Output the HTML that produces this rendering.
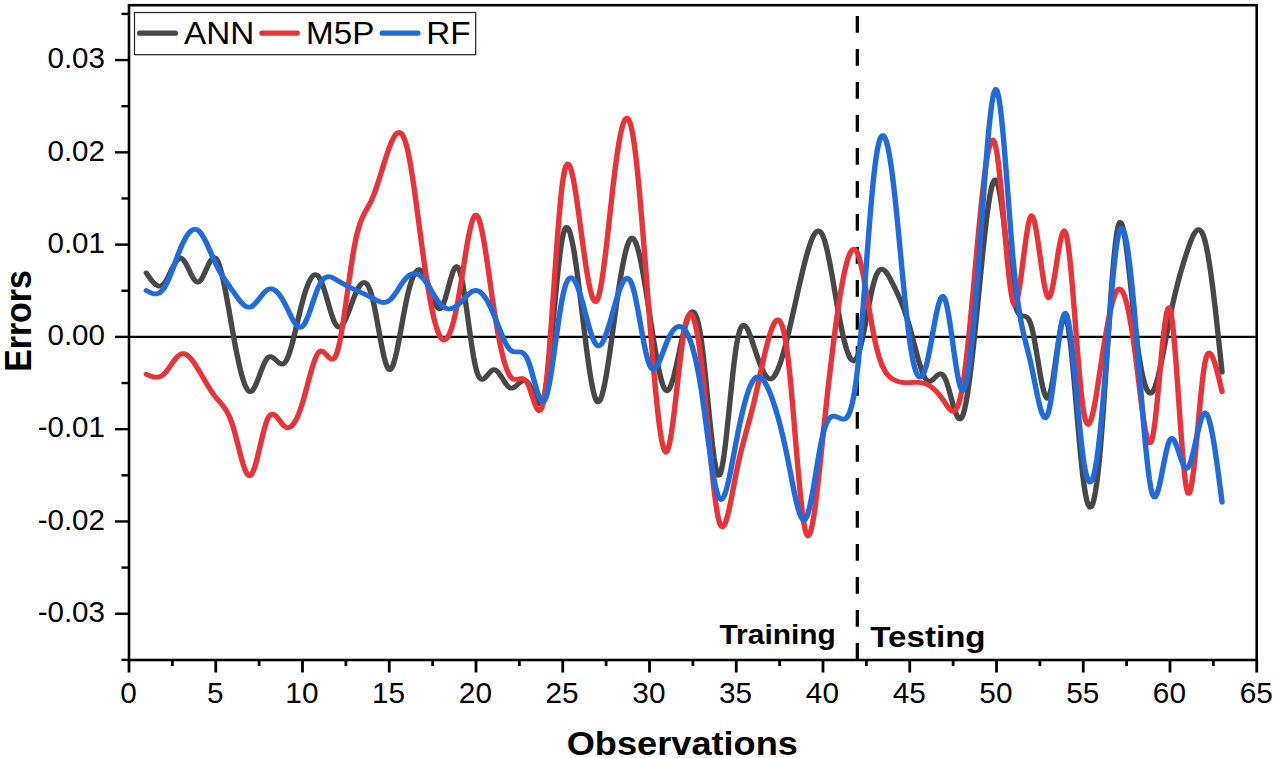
<!DOCTYPE html>
<html lang="en">
<head>
<meta charset="utf-8">
<title>Errors vs Observations</title>
<style>
html,body{margin:0;padding:0;background:#fff;}
body{width:1274px;height:758px;overflow:hidden;}
svg{display:block;}
text{font-family:"Liberation Sans",Arial,Helvetica,sans-serif;fill:#000;}
</style>
</head>
<body>
<svg width="1274" height="758" viewBox="0 0 1274 758">
<rect x="0" y="0" width="1274" height="758" fill="#ffffff"/>
<g stroke="#000" stroke-width="2.4" fill="none" stroke-linecap="butt">
<g stroke-width="2.8">
<line x1="129.00" y1="660.0" x2="129.00" y2="672.5"/>
<line x1="215.75" y1="660.0" x2="215.75" y2="672.5"/>
<line x1="302.50" y1="660.0" x2="302.50" y2="672.5"/>
<line x1="389.25" y1="660.0" x2="389.25" y2="672.5"/>
<line x1="476.00" y1="660.0" x2="476.00" y2="672.5"/>
<line x1="562.75" y1="660.0" x2="562.75" y2="672.5"/>
<line x1="649.50" y1="660.0" x2="649.50" y2="672.5"/>
<line x1="736.25" y1="660.0" x2="736.25" y2="672.5"/>
<line x1="823.00" y1="660.0" x2="823.00" y2="672.5"/>
<line x1="909.75" y1="660.0" x2="909.75" y2="672.5"/>
<line x1="996.50" y1="660.0" x2="996.50" y2="672.5"/>
<line x1="1083.25" y1="660.0" x2="1083.25" y2="672.5"/>
<line x1="1170.00" y1="660.0" x2="1170.00" y2="672.5"/>
<line x1="1256.75" y1="660.0" x2="1256.75" y2="672.5"/>
<line x1="172.38" y1="660.0" x2="172.38" y2="666.0"/>
<line x1="259.12" y1="660.0" x2="259.12" y2="666.0"/>
<line x1="345.88" y1="660.0" x2="345.88" y2="666.0"/>
<line x1="432.62" y1="660.0" x2="432.62" y2="666.0"/>
<line x1="519.38" y1="660.0" x2="519.38" y2="666.0"/>
<line x1="606.12" y1="660.0" x2="606.12" y2="666.0"/>
<line x1="692.88" y1="660.0" x2="692.88" y2="666.0"/>
<line x1="779.62" y1="660.0" x2="779.62" y2="666.0"/>
<line x1="866.38" y1="660.0" x2="866.38" y2="666.0"/>
<line x1="953.13" y1="660.0" x2="953.13" y2="666.0"/>
<line x1="1039.88" y1="660.0" x2="1039.88" y2="666.0"/>
<line x1="1126.62" y1="660.0" x2="1126.62" y2="666.0"/>
<line x1="1213.38" y1="660.0" x2="1213.38" y2="666.0"/>
</g>
<line x1="115.0" y1="613.74" x2="129.0" y2="613.74"/>
<line x1="115.0" y1="521.46" x2="129.0" y2="521.46"/>
<line x1="115.0" y1="429.18" x2="129.0" y2="429.18"/>
<line x1="115.0" y1="336.90" x2="129.0" y2="336.90"/>
<line x1="115.0" y1="244.62" x2="129.0" y2="244.62"/>
<line x1="115.0" y1="152.34" x2="129.0" y2="152.34"/>
<line x1="115.0" y1="60.06" x2="129.0" y2="60.06"/>
<line x1="121.5" y1="659.88" x2="129.0" y2="659.88"/>
<line x1="121.5" y1="567.60" x2="129.0" y2="567.60"/>
<line x1="121.5" y1="475.32" x2="129.0" y2="475.32"/>
<line x1="121.5" y1="383.04" x2="129.0" y2="383.04"/>
<line x1="121.5" y1="290.76" x2="129.0" y2="290.76"/>
<line x1="121.5" y1="198.48" x2="129.0" y2="198.48"/>
<line x1="121.5" y1="106.20" x2="129.0" y2="106.20"/>
<line x1="121.5" y1="13.92" x2="129.0" y2="13.92"/>
</g>
<line x1="129.0" y1="336.9" x2="1256.7" y2="336.9" stroke="#000" stroke-width="2.2"/>
<line x1="857.3" y1="16.1" x2="857.3" y2="660.0" stroke="#000" stroke-width="3.2" stroke-dasharray="16.6 16.4"/>
<g fill="none" stroke-width="4.8" stroke-linecap="round" stroke-linejoin="round" transform="scale(1.13 1)">
<path stroke="#474747" d="M129.51 272.9L130.77 275.1L132.03 277.1L133.29 279.1L134.55 280.9L135.81 282.6L137.07 284.0L138.33 285.0L139.59 285.8L140.85 286.1L142.11 286.0L143.36 285.4L144.62 284.3L145.88 282.6L147.14 280.4L148.40 277.8L149.66 275.0L150.92 272.0L152.18 269.0L153.44 266.2L154.70 263.6L155.96 261.4L157.22 259.6L158.47 258.5L159.73 258.1L160.99 258.6L162.25 259.9L163.51 261.8L164.77 264.2L166.03 267.0L167.29 269.9L168.55 272.9L169.81 275.7L171.07 278.2L172.33 280.2L173.58 281.6L174.84 282.2L176.10 281.9L177.36 280.6L178.62 278.6L179.88 275.9L181.14 272.9L182.40 269.7L183.66 266.6L184.92 263.6L186.18 261.0L187.44 259.0L188.70 257.8L189.95 257.6L191.21 258.5L192.47 260.7L193.73 264.1L194.99 268.5L196.25 273.9L197.51 280.0L198.77 286.8L200.03 294.1L201.29 301.8L202.55 309.7L203.81 317.9L205.06 326.0L206.32 334.0L207.58 341.8L208.84 349.3L210.10 356.4L211.36 363.1L212.62 369.2L213.88 374.8L215.14 379.7L216.40 383.8L217.66 387.2L218.92 389.7L220.17 391.2L221.43 391.7L222.69 391.2L223.95 389.7L225.21 387.4L226.47 384.5L227.73 381.1L228.99 377.4L230.25 373.6L231.51 369.8L232.77 366.2L234.03 362.9L235.29 360.2L236.54 358.2L237.80 357.0L239.06 356.6L240.32 356.9L241.58 357.7L242.84 358.8L244.10 360.1L245.36 361.4L246.62 362.6L247.88 363.6L249.14 364.1L250.40 364.0L251.65 363.1L252.91 361.4L254.17 358.7L255.43 355.2L256.69 351.0L257.95 346.2L259.21 340.9L260.47 335.2L261.73 329.3L262.99 323.3L264.25 317.2L265.51 311.3L266.76 305.5L268.02 300.1L269.28 295.1L270.54 290.5L271.80 286.5L273.06 282.9L274.32 280.0L275.58 277.6L276.84 275.9L278.10 274.9L279.36 274.7L280.62 275.2L281.88 276.5L283.13 278.7L284.39 281.7L285.65 285.4L286.91 289.6L288.17 294.3L289.43 299.2L290.69 304.1L291.95 309.0L293.21 313.6L294.47 317.8L295.73 321.4L296.99 324.2L298.24 326.2L299.50 327.1L300.76 327.1L302.02 326.2L303.28 324.5L304.54 322.1L305.80 319.3L307.06 316.0L308.32 312.4L309.58 308.6L310.84 304.7L312.10 300.9L313.35 297.2L314.61 293.7L315.87 290.6L317.13 287.9L318.39 285.6L319.65 284.0L320.91 282.9L322.17 282.5L323.43 282.9L324.69 284.1L325.95 286.2L327.21 289.3L328.47 293.5L329.72 298.7L330.98 305.0L332.24 312.0L333.50 319.6L334.76 327.4L336.02 335.3L337.28 342.9L338.54 350.0L339.80 356.5L341.06 361.9L342.32 366.1L343.58 368.8L344.83 369.7L346.09 368.9L347.35 366.4L348.61 362.5L349.87 357.3L351.13 351.2L352.39 344.3L353.65 336.9L354.91 329.1L356.17 321.2L357.43 313.4L358.69 305.9L359.94 299.0L361.20 292.7L362.46 287.2L363.72 282.4L364.98 278.4L366.24 275.1L367.50 272.6L368.76 270.8L370.02 269.8L371.28 269.6L372.54 270.2L373.80 271.5L375.06 273.6L376.31 276.5L377.57 280.1L378.83 284.0L380.09 288.2L381.35 292.5L382.61 296.7L383.87 300.5L385.13 303.8L386.39 306.5L387.65 308.2L388.91 308.9L390.17 308.3L391.42 306.4L392.68 303.1L393.94 298.9L395.20 294.0L396.46 288.7L397.72 283.4L398.98 278.3L400.24 273.8L401.50 270.1L402.76 267.6L404.02 266.5L405.28 267.3L406.53 270.0L407.79 274.9L409.05 281.4L410.31 289.4L411.57 298.5L412.83 308.3L414.09 318.5L415.35 328.8L416.61 338.9L417.87 348.4L419.13 357.1L420.39 364.5L421.65 370.5L422.90 374.7L424.16 377.5L425.42 379.0L426.68 379.4L427.94 379.0L429.20 377.9L430.46 376.4L431.72 374.7L432.98 373.0L434.24 371.4L435.50 370.2L436.76 369.6L438.01 369.8L439.27 370.6L440.53 371.9L441.79 373.7L443.05 375.7L444.31 377.9L445.57 380.2L446.83 382.4L448.09 384.4L449.35 386.1L450.61 387.4L451.87 388.1L453.12 388.2L454.38 387.7L455.64 386.9L456.90 385.7L458.16 384.4L459.42 383.1L460.68 381.9L461.94 380.9L463.20 380.3L464.46 380.2L465.72 380.8L466.98 382.1L468.24 384.3L469.49 387.2L470.75 390.5L472.01 394.0L473.27 397.4L474.53 400.3L475.79 402.5L477.05 403.8L478.31 403.8L479.57 402.2L480.83 398.8L482.09 393.2L483.35 385.3L484.60 375.1L485.86 363.0L487.12 349.5L488.38 334.9L489.64 319.8L490.90 304.5L492.16 289.5L493.42 275.2L494.68 262.1L495.94 250.6L497.20 241.0L498.46 233.9L499.71 229.4L500.97 227.4L502.23 227.6L503.49 229.8L504.75 233.9L506.01 239.7L507.27 246.9L508.53 255.4L509.79 264.9L511.05 275.3L512.31 286.4L513.57 297.9L514.83 309.7L516.08 321.6L517.34 333.3L518.60 344.8L519.86 355.7L521.12 365.9L522.38 375.3L523.64 383.5L524.90 390.5L526.16 396.0L527.42 399.9L528.68 401.8L529.94 401.8L531.19 399.9L532.45 396.3L533.71 391.2L534.97 384.8L536.23 377.2L537.49 368.7L538.75 359.5L540.01 349.6L541.27 339.4L542.53 329.0L543.79 318.6L545.05 308.3L546.30 298.3L547.56 288.8L548.82 279.7L550.08 271.3L551.34 263.6L552.60 256.7L553.86 250.7L555.12 245.7L556.38 241.9L557.64 239.3L558.90 238.1L560.16 238.3L561.42 239.9L562.67 242.8L563.93 246.8L565.19 252.0L566.45 258.1L567.71 265.0L568.97 272.6L570.23 280.8L571.49 289.5L572.75 298.5L574.01 307.7L575.27 317.1L576.53 326.4L577.78 335.6L579.04 344.6L580.30 353.1L581.56 361.1L582.82 368.4L584.08 374.9L585.34 380.5L586.60 385.0L587.86 388.3L589.12 390.3L590.38 390.9L591.64 389.9L592.89 387.6L594.15 384.2L595.41 379.7L596.67 374.5L597.93 368.6L599.19 362.2L600.45 355.6L601.71 348.9L602.97 342.3L604.23 336.0L605.49 330.1L606.75 324.8L608.01 320.2L609.26 316.5L610.52 313.8L611.78 312.2L613.04 311.7L614.30 312.5L615.56 314.8L616.82 318.5L618.08 323.9L619.34 331.1L620.60 340.1L621.86 351.0L623.12 363.6L624.37 377.3L625.63 391.7L626.89 406.3L628.15 420.7L629.41 434.3L630.67 446.7L631.93 457.5L633.19 466.2L634.45 472.3L635.71 475.3L636.97 474.9L638.23 471.0L639.48 464.3L640.74 455.1L642.00 443.9L643.26 431.3L644.52 417.7L645.78 403.7L647.04 389.6L648.30 376.0L649.56 363.4L650.82 352.2L652.08 343.0L653.34 335.9L654.60 330.7L655.85 327.4L657.11 325.6L658.37 325.2L659.63 326.1L660.89 328.0L662.15 330.8L663.41 334.2L664.67 338.1L665.93 342.3L667.19 346.6L668.45 350.9L669.71 355.1L670.96 359.2L672.22 363.0L673.48 366.6L674.74 369.8L676.00 372.6L677.26 375.0L678.52 376.9L679.78 378.2L681.04 378.9L682.30 378.9L683.56 378.2L684.82 376.8L686.07 374.7L687.33 372.1L688.59 368.8L689.85 365.1L691.11 361.0L692.37 356.4L693.63 351.4L694.89 346.1L696.15 340.5L697.41 334.7L698.67 328.7L699.93 322.6L701.19 316.3L702.44 310.0L703.70 303.6L704.96 297.2L706.22 290.9L707.48 284.6L708.74 278.4L710.00 272.4L711.26 266.6L712.52 261.0L713.78 255.7L715.04 250.7L716.30 246.1L717.55 241.9L718.81 238.3L720.07 235.4L721.33 233.1L722.59 231.5L723.85 230.8L725.11 231.0L726.37 232.2L727.63 234.4L728.89 237.8L730.15 242.2L731.41 247.6L732.66 253.9L733.92 260.8L735.18 268.3L736.44 276.2L737.70 284.4L738.96 292.7L740.22 301.0L741.48 309.2L742.74 317.1L744.00 324.6L745.26 331.5L746.52 337.9L747.78 343.7L749.03 348.7L750.29 352.9L751.55 356.3L752.81 358.8L754.07 360.3L755.33 360.8L756.59 360.3L757.85 358.5L759.11 355.6L760.37 351.4L761.63 346.2L762.89 340.1L764.14 333.4L765.40 326.1L766.66 318.6L767.92 311.1L769.18 303.6L770.44 296.5L771.70 289.9L772.96 284.0L774.22 279.1L775.48 275.2L776.74 272.3L778.00 270.4L779.25 269.4L780.51 269.2L781.77 269.7L783.03 270.8L784.29 272.4L785.55 274.4L786.81 276.8L788.07 279.4L789.33 282.2L790.59 285.0L791.85 287.9L793.11 290.9L794.37 293.9L795.62 297.1L796.88 300.4L798.14 303.9L799.40 307.6L800.66 311.5L801.92 315.7L803.18 320.1L804.44 324.8L805.70 329.8L806.96 335.0L808.22 340.5L809.48 346.0L810.73 351.4L811.99 356.7L813.25 361.8L814.51 366.5L815.77 370.7L817.03 374.4L818.29 377.4L819.55 379.7L820.81 381.0L822.07 381.5L823.33 381.3L824.59 380.5L825.84 379.3L827.10 377.9L828.36 376.5L829.62 375.2L830.88 374.3L832.14 373.9L833.40 374.1L834.66 375.2L835.92 377.3L837.18 380.5L838.44 384.6L839.70 389.4L840.96 394.5L842.21 399.7L843.47 404.8L844.73 409.5L845.99 413.5L847.25 416.6L848.51 418.6L849.77 419.0L851.03 417.8L852.29 414.6L853.55 409.6L854.81 402.9L856.07 394.7L857.32 385.1L858.58 374.4L859.84 362.6L861.10 349.9L862.36 336.5L863.62 322.6L864.88 308.3L866.14 293.8L867.40 279.2L868.66 264.8L869.92 250.8L871.18 237.3L872.43 224.8L873.69 213.3L874.95 203.1L876.21 194.4L877.47 187.6L878.73 182.7L879.99 180.1L881.25 180.0L882.51 182.5L883.77 187.6L885.03 195.0L886.29 204.1L887.55 214.7L888.80 226.3L890.06 238.4L891.32 250.8L892.58 263.0L893.84 274.6L895.10 285.2L896.36 294.4L897.62 301.8L898.88 307.3L900.14 311.1L901.40 313.6L902.66 315.0L903.91 315.7L905.17 316.0L906.43 316.2L907.69 316.5L908.95 317.4L910.21 319.1L911.47 321.9L912.73 326.1L913.99 331.9L915.25 339.0L916.51 347.0L917.77 355.5L919.02 364.1L920.28 372.6L921.54 380.4L922.80 387.3L924.06 392.8L925.32 396.5L926.58 398.2L927.84 397.4L929.10 393.9L930.36 387.9L931.62 380.2L932.88 371.2L934.14 361.4L935.39 351.4L936.65 341.8L937.91 333.0L939.17 325.6L940.43 320.2L941.69 317.3L942.95 317.5L944.21 321.1L945.47 328.1L946.73 338.0L947.99 350.3L949.25 364.4L950.50 379.8L951.76 396.2L953.02 413.0L954.28 429.6L955.54 445.6L956.80 460.6L958.06 473.9L959.32 485.2L960.58 494.2L961.84 500.8L963.10 505.1L964.36 507.2L965.61 506.9L966.87 504.3L968.13 499.3L969.39 492.1L970.65 482.5L971.91 470.7L973.17 456.5L974.43 439.9L975.69 421.3L976.95 401.1L978.21 379.8L979.47 357.9L980.73 336.0L981.98 314.6L983.24 294.2L984.50 275.4L985.76 258.6L987.02 244.4L988.28 233.4L989.54 226.0L990.80 222.5L992.06 222.6L993.32 225.9L994.58 231.9L995.84 240.3L997.09 250.5L998.35 262.2L999.61 275.0L1000.87 288.3L1002.13 301.9L1003.39 315.2L1004.65 327.8L1005.91 339.5L1007.17 350.0L1008.43 359.4L1009.69 367.6L1010.95 374.8L1012.20 380.7L1013.46 385.6L1014.72 389.2L1015.98 391.7L1017.24 393.1L1018.50 393.2L1019.76 392.1L1021.02 389.9L1022.28 386.5L1023.54 382.2L1024.80 377.0L1026.06 371.1L1027.32 364.5L1028.57 357.6L1029.83 350.2L1031.09 342.7L1032.35 335.1L1033.61 327.6L1034.87 320.2L1036.13 313.1L1037.39 306.3L1038.65 299.9L1039.91 293.8L1041.17 288.0L1042.43 282.4L1043.68 277.1L1044.94 272.0L1046.20 267.1L1047.46 262.4L1048.72 257.8L1049.98 253.4L1051.24 249.2L1052.50 245.1L1053.76 241.2L1055.02 237.8L1056.28 234.8L1057.54 232.3L1058.79 230.6L1060.05 229.7L1061.31 229.7L1062.57 230.7L1063.83 232.8L1065.09 236.2L1066.35 240.8L1067.61 246.9L1068.87 254.2L1070.13 262.7L1071.39 272.3L1072.65 282.8L1073.91 294.1L1075.16 306.0L1076.42 318.6L1077.68 331.7L1078.94 345.1L1080.20 358.7L1081.46 372.4"/>
<path stroke="#ea3336" d="M129.51 374.3L130.77 374.9L132.03 375.5L133.29 376.1L134.55 376.5L135.81 376.9L137.07 377.2L138.33 377.2L139.59 377.2L140.85 376.9L142.11 376.3L143.36 375.6L144.62 374.5L145.88 373.2L147.14 371.5L148.40 369.7L149.66 367.7L150.92 365.7L152.18 363.6L153.44 361.6L154.70 359.7L155.96 357.9L157.22 356.4L158.47 355.1L159.73 354.2L160.99 353.7L162.25 353.6L163.51 353.9L164.77 354.5L166.03 355.5L167.29 356.7L168.55 358.2L169.81 359.9L171.07 361.8L172.33 363.8L173.58 366.0L174.84 368.3L176.10 370.7L177.36 373.0L178.62 375.5L179.88 377.9L181.14 380.3L182.40 382.7L183.66 385.1L184.92 387.4L186.18 389.7L187.44 391.8L188.70 393.9L189.95 395.8L191.21 397.6L192.47 399.3L193.73 401.0L194.99 402.6L196.25 404.2L197.51 406.0L198.77 408.0L200.03 410.2L201.29 412.7L202.55 415.5L203.81 418.8L205.06 422.6L206.32 426.9L207.58 431.8L208.84 437.1L210.10 442.7L211.36 448.4L212.62 454.0L213.88 459.3L215.14 464.1L216.40 468.4L217.66 471.8L218.92 474.3L220.17 475.7L221.43 475.7L222.69 474.3L223.95 471.6L225.21 467.8L226.47 463.0L227.73 457.6L228.99 451.8L230.25 445.7L231.51 439.6L232.77 433.8L234.03 428.3L235.29 423.5L236.54 419.6L237.80 416.8L239.06 415.0L240.32 414.2L241.58 414.1L242.84 414.8L244.10 415.9L245.36 417.5L246.62 419.3L247.88 421.2L249.14 423.0L250.40 424.8L251.65 426.2L252.91 427.2L254.17 427.6L255.43 427.6L256.69 427.1L257.95 426.1L259.21 424.6L260.47 422.6L261.73 420.2L262.99 417.4L264.25 414.0L265.51 410.3L266.76 406.1L268.02 401.6L269.28 396.6L270.54 391.4L271.80 386.1L273.06 380.7L274.32 375.4L275.58 370.3L276.84 365.6L278.10 361.3L279.36 357.6L280.62 354.6L281.88 352.4L283.13 351.2L284.39 350.9L285.65 351.4L286.91 352.5L288.17 353.9L289.43 355.5L290.69 357.1L291.95 358.3L293.21 359.1L294.47 359.1L295.73 358.2L296.99 356.1L298.24 352.7L299.50 347.7L300.76 341.2L302.02 333.6L303.28 325.0L304.54 315.6L305.80 305.7L307.06 295.5L308.32 285.2L309.58 275.1L310.84 265.3L312.10 256.2L313.35 247.8L314.61 240.5L315.87 234.3L317.13 228.9L318.39 224.3L319.65 220.4L320.91 217.0L322.17 214.0L323.43 211.4L324.69 208.8L325.95 206.3L327.21 203.7L328.47 200.9L329.72 197.7L330.98 194.2L332.24 190.3L333.50 186.2L334.76 181.8L336.02 177.4L337.28 172.8L338.54 168.2L339.80 163.6L341.06 159.1L342.32 154.7L343.58 150.5L344.83 146.6L346.09 143.0L347.35 139.9L348.61 137.1L349.87 135.0L351.13 133.4L352.39 132.6L353.65 132.5L354.91 133.3L356.17 135.0L357.43 137.7L358.69 141.5L359.94 146.4L361.20 152.5L362.46 159.7L363.72 167.8L364.98 176.7L366.24 186.3L367.50 196.3L368.76 206.8L370.02 217.5L371.28 228.3L372.54 239.1L373.80 249.7L375.06 260.0L376.31 269.8L377.57 279.2L378.83 288.1L380.09 296.4L381.35 304.1L382.61 311.1L383.87 317.5L385.13 323.1L386.39 328.0L387.65 332.1L388.91 335.4L390.17 337.8L391.42 339.4L392.68 340.0L393.94 339.7L395.20 338.6L396.46 336.6L397.72 333.9L398.98 330.3L400.24 325.9L401.50 320.7L402.76 314.8L404.02 308.1L405.28 300.8L406.53 292.7L407.79 284.1L409.05 275.1L410.31 266.0L411.57 256.9L412.83 248.2L414.09 240.1L415.35 232.7L416.61 226.3L417.87 221.1L419.13 217.4L420.39 215.3L421.65 215.1L422.90 216.8L424.16 220.3L425.42 225.4L426.68 231.8L427.94 239.3L429.20 247.7L430.46 256.9L431.72 266.6L432.98 276.6L434.24 286.7L435.50 296.7L436.76 306.4L438.01 315.6L439.27 324.2L440.53 332.3L441.79 339.9L443.05 346.8L444.31 353.1L445.57 358.8L446.83 363.8L448.09 368.2L449.35 371.8L450.61 374.8L451.87 376.9L453.12 378.4L454.38 379.1L455.64 379.4L456.90 379.4L458.16 379.1L459.42 378.8L460.68 378.6L461.94 378.5L463.20 378.9L464.46 379.8L465.72 381.3L466.98 383.7L468.24 386.9L469.49 390.9L470.75 395.3L472.01 399.7L473.27 403.8L474.53 407.2L475.79 409.6L477.05 410.7L478.31 410.1L479.57 407.4L480.83 402.3L482.09 394.5L483.35 383.6L484.60 369.8L485.86 353.5L487.12 335.4L488.38 316.0L489.64 295.8L490.90 275.3L492.16 255.1L493.42 235.7L494.68 217.8L495.94 201.7L497.20 188.1L498.46 177.5L499.71 170.0L500.97 165.6L502.23 163.9L503.49 164.6L504.75 167.5L506.01 172.2L507.27 178.7L508.53 186.4L509.79 195.3L511.05 205.0L512.31 215.3L513.57 225.8L514.83 236.4L516.08 246.9L517.34 256.9L518.60 266.5L519.86 275.3L521.12 283.1L522.38 289.8L523.64 295.2L524.90 299.1L526.16 301.3L527.42 301.6L528.68 299.7L529.94 295.7L531.19 289.6L532.45 281.7L533.71 272.3L534.97 261.6L536.23 250.0L537.49 237.6L538.75 224.8L540.01 211.8L541.27 198.9L542.53 186.2L543.79 174.2L545.05 163.1L546.30 152.9L547.56 143.8L548.82 135.9L550.08 129.4L551.34 124.2L552.60 120.5L553.86 118.5L555.12 118.1L556.38 119.6L557.64 122.9L558.90 128.3L560.16 135.7L561.42 145.2L562.67 156.5L563.93 169.4L565.19 183.7L566.45 199.3L567.71 215.9L568.97 233.3L570.23 251.2L571.49 269.6L572.75 288.2L574.01 306.8L575.27 325.1L576.53 343.1L577.78 360.4L579.04 376.9L580.30 392.3L581.56 406.4L582.82 419.0L584.08 429.9L585.34 438.9L586.60 445.7L587.86 450.2L589.12 452.1L590.38 451.2L591.64 447.5L592.89 441.3L594.15 433.0L595.41 423.0L596.67 411.7L597.93 399.6L599.19 387.0L600.45 374.3L601.71 362.0L602.97 350.4L604.23 339.9L605.49 331.0L606.75 323.9L608.01 318.8L609.26 315.5L610.52 314.0L611.78 314.3L613.04 316.3L614.30 319.9L615.56 325.2L616.82 332.1L618.08 340.5L619.34 350.4L620.60 361.8L621.86 374.5L623.12 388.4L624.37 403.0L625.63 418.2L626.89 433.5L628.15 448.7L629.41 463.4L630.67 477.3L631.93 490.1L633.19 501.4L634.45 511.0L635.71 518.5L636.97 523.5L638.23 526.3L639.48 526.8L640.74 525.5L642.00 522.6L643.26 518.2L644.52 512.8L645.78 506.4L647.04 499.4L648.30 492.0L649.56 484.5L650.82 477.0L652.08 469.9L653.34 463.3L654.60 457.0L655.85 451.1L657.11 445.5L658.37 440.1L659.63 434.8L660.89 429.6L662.15 424.4L663.41 419.1L664.67 413.8L665.93 408.2L667.19 402.4L668.45 396.3L669.71 390.0L670.96 383.5L672.22 377.0L673.48 370.4L674.74 364.0L676.00 357.7L677.26 351.6L678.52 345.8L679.78 340.3L681.04 335.3L682.30 330.9L683.56 327.0L684.82 323.8L686.07 321.4L687.33 320.1L688.59 319.8L689.85 320.7L691.11 322.9L692.37 326.6L693.63 331.9L694.89 338.9L696.15 347.7L697.41 358.5L698.67 371.3L699.93 385.9L701.19 401.7L702.44 418.4L703.70 435.5L704.96 452.6L706.22 469.2L707.48 484.9L708.74 499.3L710.00 511.8L711.26 522.1L712.52 529.8L713.78 534.4L715.04 535.9L716.30 534.6L717.55 530.7L718.81 524.7L720.07 516.7L721.33 507.0L722.59 495.9L723.85 483.8L725.11 470.8L726.37 457.3L727.63 443.6L728.89 429.8L730.15 416.3L731.41 403.1L732.66 390.1L733.92 377.4L735.18 365.1L736.44 353.2L737.70 341.7L738.96 330.7L740.22 320.1L741.48 310.2L742.74 300.8L744.00 292.0L745.26 283.8L746.52 276.4L747.78 269.7L749.03 263.9L750.29 259.0L751.55 255.0L752.81 251.9L754.07 250.0L755.33 249.1L756.59 249.4L757.85 251.0L759.11 253.8L760.37 257.9L761.63 263.2L762.89 269.4L764.14 276.4L765.40 284.1L766.66 292.1L767.92 300.5L769.18 309.0L770.44 317.4L771.70 325.5L772.96 333.2L774.22 340.3L775.48 346.6L776.74 352.2L778.00 357.1L779.25 361.3L780.51 365.0L781.77 368.1L783.03 370.8L784.29 373.0L785.55 374.8L786.81 376.3L788.07 377.6L789.33 378.6L790.59 379.5L791.85 380.2L793.11 380.8L794.37 381.4L795.62 381.8L796.88 382.1L798.14 382.3L799.40 382.5L800.66 382.6L801.92 382.6L803.18 382.6L804.44 382.6L805.70 382.6L806.96 382.5L808.22 382.4L809.48 382.4L810.73 382.4L811.99 382.4L813.25 382.4L814.51 382.6L815.77 382.8L817.03 383.1L818.29 383.5L819.55 384.0L820.81 384.6L822.07 385.4L823.33 386.3L824.59 387.3L825.84 388.5L827.10 389.8L828.36 391.2L829.62 392.7L830.88 394.3L832.14 396.1L833.40 398.0L834.66 400.0L835.92 402.1L837.18 404.2L838.44 406.4L839.70 408.3L840.96 409.8L842.21 410.9L843.47 411.3L844.73 410.9L845.99 409.5L847.25 407.1L848.51 403.4L849.77 398.3L851.03 391.6L852.29 383.3L853.55 373.5L854.81 362.2L856.07 349.9L857.32 336.5L858.58 322.3L859.84 307.5L861.10 292.2L862.36 276.6L863.62 261.0L864.88 245.5L866.14 230.3L867.40 215.6L868.66 201.5L869.92 188.4L871.18 176.3L872.43 165.6L873.69 156.5L874.95 149.2L876.21 143.8L877.47 140.7L878.73 140.1L879.99 142.1L881.25 147.0L882.51 155.0L883.77 165.9L885.03 179.1L886.29 194.0L887.55 210.0L888.80 226.5L890.06 242.8L891.32 258.5L892.58 272.8L893.84 285.2L895.10 295.0L896.36 301.8L897.62 304.8L898.88 303.9L900.14 299.7L901.40 292.8L902.66 283.9L903.91 273.6L905.17 262.5L906.43 251.4L907.69 240.7L908.95 231.1L910.21 223.4L911.47 218.0L912.73 215.7L913.99 216.8L915.25 220.9L916.51 227.3L917.77 235.6L919.02 245.1L920.28 255.2L921.54 265.5L922.80 275.2L924.06 283.9L925.32 290.9L926.58 295.7L927.84 297.8L929.10 296.6L930.36 292.6L931.62 286.4L932.88 278.6L934.14 269.8L935.39 260.6L936.65 251.7L937.91 243.7L939.17 237.1L940.43 232.6L941.69 230.8L942.95 232.4L944.21 237.7L945.47 246.8L946.73 258.8L947.99 273.3L949.25 289.7L950.50 307.2L951.76 325.4L953.02 343.6L954.28 361.3L955.54 377.7L956.80 392.4L958.06 404.7L959.32 414.0L960.58 420.2L961.84 423.5L963.10 424.4L964.36 422.9L965.61 419.5L966.87 414.4L968.13 407.8L969.39 400.1L970.65 391.6L971.91 382.4L973.17 373.0L974.43 363.6L975.69 354.3L976.95 345.3L978.21 336.7L979.47 328.6L980.73 320.9L981.98 313.9L983.24 307.6L984.50 302.0L985.76 297.4L987.02 293.7L988.28 291.0L989.54 289.4L990.80 289.0L992.06 289.7L993.32 291.6L994.58 294.5L995.84 298.5L997.09 303.6L998.35 309.6L999.61 316.6L1000.87 324.5L1002.13 333.4L1003.39 343.1L1004.65 353.6L1005.91 364.9L1007.17 376.7L1008.43 388.5L1009.69 400.1L1010.95 411.0L1012.20 420.9L1013.46 429.4L1014.72 436.2L1015.98 440.8L1017.24 443.0L1018.50 442.3L1019.76 438.3L1021.02 430.9L1022.28 420.3L1023.54 407.4L1024.80 392.9L1026.06 377.5L1027.32 361.9L1028.57 347.0L1029.83 333.4L1031.09 322.0L1032.35 313.4L1033.61 308.4L1034.87 307.7L1036.13 312.0L1037.39 321.2L1038.65 334.4L1039.91 350.7L1041.17 369.3L1042.43 389.2L1043.68 409.6L1044.94 429.7L1046.20 448.4L1047.46 465.1L1048.72 478.7L1049.98 488.5L1051.24 493.4L1052.50 493.4L1053.76 489.1L1055.02 481.2L1056.28 470.3L1057.54 457.2L1058.79 442.6L1060.05 427.2L1061.31 411.7L1062.57 396.7L1063.83 383.1L1065.09 371.5L1066.35 362.6L1067.61 356.8L1068.87 353.8L1070.13 352.9L1071.39 353.9L1072.65 356.2L1073.91 359.5L1075.16 363.6L1076.42 368.4L1077.68 373.8L1078.94 379.5L1080.20 385.5L1081.46 391.7"/>
<path stroke="#1f6bdc" d="M129.51 290.5L130.77 291.3L132.03 292.0L133.29 292.7L134.55 293.2L135.81 293.6L137.07 293.8L138.33 293.8L139.59 293.5L140.85 293.0L142.11 292.0L143.36 290.7L144.62 289.0L145.88 286.9L147.14 284.3L148.40 281.4L149.66 278.1L150.92 274.7L152.18 271.0L153.44 267.2L154.70 263.4L155.96 259.6L157.22 255.7L158.47 252.0L159.73 248.5L160.99 245.2L162.25 242.1L163.51 239.4L164.77 236.9L166.03 234.7L167.29 232.9L168.55 231.4L169.81 230.3L171.07 229.6L172.33 229.3L173.58 229.4L174.84 230.0L176.10 231.1L177.36 232.6L178.62 234.6L179.88 236.9L181.14 239.5L182.40 242.3L183.66 245.3L184.92 248.5L186.18 251.7L187.44 255.0L188.70 258.2L189.95 261.4L191.21 264.4L192.47 267.2L193.73 269.9L194.99 272.4L196.25 274.8L197.51 277.1L198.77 279.2L200.03 281.4L201.29 283.4L202.55 285.4L203.81 287.5L205.06 289.5L206.32 291.5L207.58 293.5L208.84 295.6L210.10 297.5L211.36 299.5L212.62 301.2L213.88 302.9L215.14 304.3L216.40 305.5L217.66 306.4L218.92 307.0L220.17 307.2L221.43 307.1L222.69 306.5L223.95 305.5L225.21 304.3L226.47 302.7L227.73 301.1L228.99 299.2L230.25 297.4L231.51 295.6L232.77 293.8L234.03 292.3L235.29 290.9L236.54 289.9L237.80 289.2L239.06 288.8L240.32 288.9L241.58 289.2L242.84 290.0L244.10 291.0L245.36 292.3L246.62 293.9L247.88 295.7L249.14 297.9L250.40 300.2L251.65 302.7L252.91 305.5L254.17 308.4L255.43 311.4L256.69 314.3L257.95 317.2L259.21 319.9L260.47 322.2L261.73 324.3L262.99 325.9L264.25 326.9L265.51 327.3L266.76 327.1L268.02 326.0L269.28 324.2L270.54 321.6L271.80 318.5L273.06 314.9L274.32 310.9L275.58 306.8L276.84 302.5L278.10 298.3L279.36 294.2L280.62 290.3L281.88 286.8L283.13 283.8L284.39 281.4L285.65 279.6L286.91 278.3L288.17 277.4L289.43 276.9L290.69 276.7L291.95 276.8L293.21 277.2L294.47 277.8L295.73 278.5L296.99 279.4L298.24 280.2L299.50 281.1L300.76 281.9L302.02 282.7L303.28 283.5L304.54 284.3L305.80 285.1L307.06 285.8L308.32 286.6L309.58 287.3L310.84 288.0L312.10 288.7L313.35 289.3L314.61 290.0L315.87 290.7L317.13 291.3L318.39 291.9L319.65 292.6L320.91 293.2L322.17 293.9L323.43 294.5L324.69 295.2L325.95 295.9L327.21 296.6L328.47 297.4L329.72 298.2L330.98 298.9L332.24 299.7L333.50 300.5L334.76 301.1L336.02 301.7L337.28 302.1L338.54 302.4L339.80 302.5L341.06 302.3L342.32 301.9L343.58 301.2L344.83 300.2L346.09 298.9L347.35 297.3L348.61 295.5L349.87 293.5L351.13 291.4L352.39 289.2L353.65 287.0L354.91 284.8L356.17 282.7L357.43 280.8L358.69 279.0L359.94 277.4L361.20 276.1L362.46 275.1L363.72 274.3L364.98 273.9L366.24 273.6L367.50 273.7L368.76 274.0L370.02 274.5L371.28 275.3L372.54 276.4L373.80 277.7L375.06 279.2L376.31 281.0L377.57 283.1L378.83 285.2L380.09 287.5L381.35 289.9L382.61 292.3L383.87 294.6L385.13 297.0L386.39 299.2L387.65 301.2L388.91 303.1L390.17 304.7L391.42 306.1L392.68 307.2L393.94 308.0L395.20 308.5L396.46 308.8L397.72 308.8L398.98 308.7L400.24 308.3L401.50 307.7L402.76 306.9L404.02 305.9L405.28 304.8L406.53 303.6L407.79 302.2L409.05 300.7L410.31 299.2L411.57 297.7L412.83 296.2L414.09 294.8L415.35 293.5L416.61 292.4L417.87 291.5L419.13 290.9L420.39 290.5L421.65 290.5L422.90 290.8L424.16 291.5L425.42 292.5L426.68 293.8L427.94 295.4L429.20 297.3L430.46 299.5L431.72 301.9L432.98 304.6L434.24 307.5L435.50 310.6L436.76 313.9L438.01 317.4L439.27 321.0L440.53 324.6L441.79 328.3L443.05 331.9L444.31 335.3L445.57 338.6L446.83 341.7L448.09 344.4L449.35 346.8L450.61 348.7L451.87 350.2L453.12 351.2L454.38 351.7L455.64 351.9L456.90 351.9L458.16 351.8L459.42 351.8L460.68 352.0L461.94 352.4L463.20 353.3L464.46 354.7L465.72 356.7L466.98 359.6L468.24 363.3L469.49 367.7L470.75 372.7L472.01 377.9L473.27 383.1L474.53 388.2L475.79 392.7L477.05 396.6L478.31 399.6L479.57 401.3L480.83 401.6L482.09 400.3L483.35 397.1L484.60 392.0L485.86 385.3L487.12 377.4L488.38 368.4L489.64 358.7L490.90 348.5L492.16 338.2L493.42 328.0L494.68 318.1L495.94 308.9L497.20 300.7L498.46 293.7L499.71 288.1L500.97 283.7L502.23 280.6L503.49 278.7L504.75 277.8L506.01 277.9L507.27 278.9L508.53 280.7L509.79 283.3L511.05 286.6L512.31 290.5L513.57 294.9L514.83 299.7L516.08 304.9L517.34 310.2L518.60 315.6L519.86 320.9L521.12 326.0L522.38 330.8L523.64 335.2L524.90 339.0L526.16 342.1L527.42 344.3L528.68 345.6L529.94 345.9L531.19 345.2L532.45 343.7L533.71 341.3L534.97 338.3L536.23 334.6L537.49 330.5L538.75 326.0L540.01 321.3L541.27 316.3L542.53 311.3L543.79 306.3L545.05 301.4L546.30 296.7L547.56 292.3L548.82 288.3L550.08 284.9L551.34 282.1L552.60 279.9L553.86 278.6L555.12 278.2L556.38 278.8L557.64 280.5L558.90 283.4L560.16 287.5L561.42 292.9L562.67 299.3L563.93 306.4L565.19 314.1L566.45 322.0L567.71 330.0L568.97 337.8L570.23 345.2L571.49 352.0L572.75 357.9L574.01 362.7L575.27 366.2L576.53 368.4L577.78 369.2L579.04 369.0L580.30 367.8L581.56 365.8L582.82 363.1L584.08 359.9L585.34 356.3L586.60 352.6L587.86 348.7L589.12 344.9L590.38 341.4L591.64 338.2L592.89 335.4L594.15 332.9L595.41 330.8L596.67 329.1L597.93 327.8L599.19 327.0L600.45 326.5L601.71 326.5L602.97 326.9L604.23 327.8L605.49 329.1L606.75 331.0L608.01 333.3L609.26 336.2L610.52 339.6L611.78 343.6L613.04 348.2L614.30 353.4L615.56 359.3L616.82 365.8L618.08 373.1L619.34 381.1L620.60 389.9L621.86 399.5L623.12 409.6L624.37 420.2L625.63 430.9L626.89 441.6L628.15 452.0L629.41 461.9L630.67 471.2L631.93 479.4L633.19 486.6L634.45 492.3L635.71 496.5L636.97 498.9L638.23 499.5L639.48 498.4L640.74 496.0L642.00 492.3L643.26 487.5L644.52 481.7L645.78 475.3L647.04 468.3L648.30 460.9L649.56 453.4L650.82 445.8L652.08 438.4L653.34 431.2L654.60 424.3L655.85 417.8L657.11 411.7L658.37 405.9L659.63 400.6L660.89 395.7L662.15 391.3L663.41 387.5L664.67 384.2L665.93 381.5L667.19 379.4L668.45 377.9L669.71 377.1L670.96 376.8L672.22 377.1L673.48 377.9L674.74 379.2L676.00 381.0L677.26 383.1L678.52 385.7L679.78 388.7L681.04 391.9L682.30 395.5L683.56 399.4L684.82 403.6L686.07 408.0L687.33 412.7L688.59 417.7L689.85 423.0L691.11 428.5L692.37 434.4L693.63 440.5L694.89 446.9L696.15 453.6L697.41 460.6L698.67 467.9L699.93 475.2L701.19 482.6L702.44 489.8L703.70 496.6L704.96 502.8L706.22 508.4L707.48 513.1L708.74 516.7L710.00 519.1L711.26 520.1L712.52 519.5L713.78 517.2L715.04 513.3L716.30 508.0L717.55 501.5L718.81 494.1L720.07 486.1L721.33 477.6L722.59 469.0L723.85 460.4L725.11 452.1L726.37 444.4L727.63 437.5L728.89 431.7L730.15 426.9L731.41 423.2L732.66 420.4L733.92 418.4L735.18 417.1L736.44 416.4L737.70 416.1L738.96 416.3L740.22 416.7L741.48 417.3L742.74 418.0L744.00 418.6L745.26 419.1L746.52 419.2L747.78 418.8L749.03 417.8L750.29 416.0L751.55 413.2L752.81 409.2L754.07 404.0L755.33 397.3L756.59 389.0L757.85 379.0L759.11 367.0L760.37 353.0L761.63 337.3L762.89 320.3L764.14 302.3L765.40 283.7L766.66 264.8L767.92 246.1L769.18 227.8L770.44 210.4L771.70 194.1L772.96 179.4L774.22 166.7L775.48 156.1L776.74 147.8L778.00 141.7L779.25 137.7L780.51 135.7L781.77 135.7L783.03 137.5L784.29 141.1L785.55 146.4L786.81 153.3L788.07 161.8L789.33 171.8L790.59 183.2L791.85 195.7L793.11 209.3L794.37 223.5L795.62 238.3L796.88 253.3L798.14 268.4L799.40 283.2L800.66 297.6L801.92 311.3L803.18 324.1L804.44 335.7L805.70 345.9L806.96 354.6L808.22 361.9L809.48 367.7L810.73 372.1L811.99 375.1L813.25 376.8L814.51 377.1L815.77 376.2L817.03 374.1L818.29 370.7L819.55 366.2L820.81 360.5L822.07 353.8L823.33 346.4L824.59 338.5L825.84 330.6L827.10 322.7L828.36 315.4L829.62 308.8L830.88 303.3L832.14 299.2L833.40 296.7L834.66 296.3L835.92 298.1L837.18 302.3L838.44 308.5L839.70 316.5L840.96 325.6L842.21 335.5L843.47 345.7L844.73 355.8L845.99 365.4L847.25 374.0L848.51 381.3L849.77 386.7L851.03 389.8L852.29 390.3L853.55 388.2L854.81 383.7L856.07 376.9L857.32 368.1L858.58 357.3L859.84 344.8L861.10 330.7L862.36 315.2L863.62 298.4L864.88 280.6L866.14 261.9L867.40 242.5L868.66 222.7L869.92 202.8L871.18 183.4L872.43 164.7L873.69 147.2L874.95 131.3L876.21 117.4L877.47 105.8L878.73 97.0L879.99 91.4L881.25 89.3L882.51 91.1L883.77 96.9L885.03 106.0L886.29 118.0L887.55 132.3L888.80 148.5L890.06 166.1L891.32 184.6L892.58 203.4L893.84 222.0L895.10 240.1L896.36 256.9L897.62 272.1L898.88 285.4L900.14 297.0L901.40 307.1L902.66 315.9L903.91 323.6L905.17 330.5L906.43 336.8L907.69 342.6L908.95 348.2L910.21 353.8L911.47 359.6L912.73 365.9L913.99 372.7L915.25 379.8L916.51 387.0L917.77 394.0L919.02 400.6L920.28 406.5L921.54 411.4L922.80 415.0L924.06 417.2L925.32 417.7L926.58 416.2L927.84 412.3L929.10 406.1L930.36 397.8L931.62 388.0L932.88 377.1L934.14 365.7L935.39 354.3L936.65 343.3L937.91 333.3L939.17 324.8L940.43 318.2L941.69 314.2L942.95 313.2L944.21 315.6L945.47 321.3L946.73 329.8L947.99 340.6L949.25 353.3L950.50 367.4L951.76 382.3L953.02 397.6L954.28 412.8L955.54 427.5L956.80 441.1L958.06 453.2L959.32 463.3L960.58 471.3L961.84 477.0L963.10 480.6L964.36 482.1L965.61 481.6L966.87 479.0L968.13 474.4L969.39 467.8L970.65 459.3L971.91 448.9L973.17 436.6L974.43 422.5L975.69 406.7L976.95 389.7L978.21 371.8L979.47 353.4L980.73 334.8L981.98 316.6L983.24 299.1L984.50 282.7L985.76 267.8L987.02 254.8L988.28 244.0L989.54 235.9L990.80 230.8L992.06 228.4L993.32 228.7L994.58 231.4L995.84 236.5L997.09 243.6L998.35 252.7L999.61 263.6L1000.87 276.0L1002.13 289.9L1003.39 305.0L1004.65 321.2L1005.91 338.3L1007.17 356.0L1008.43 374.0L1009.69 391.8L1010.95 409.4L1012.20 426.2L1013.46 441.9L1014.72 456.3L1015.98 469.1L1017.24 479.8L1018.50 488.2L1019.76 494.0L1021.02 496.8L1022.28 496.9L1023.54 494.8L1024.80 490.7L1026.06 485.2L1027.32 478.6L1028.57 471.4L1029.83 464.0L1031.09 456.8L1032.35 450.3L1033.61 444.8L1034.87 440.8L1036.13 438.6L1037.39 438.3L1038.65 439.6L1039.91 442.1L1041.17 445.6L1042.43 449.6L1043.68 453.9L1044.94 458.2L1046.20 462.1L1047.46 465.3L1048.72 467.6L1049.98 468.5L1051.24 467.7L1052.50 465.3L1053.76 461.4L1055.02 456.4L1056.28 450.7L1057.54 444.4L1058.79 438.0L1060.05 431.7L1061.31 425.8L1062.57 420.7L1063.83 416.6L1065.09 413.9L1066.35 412.9L1067.61 413.7L1068.87 416.2L1070.13 420.4L1071.39 425.9L1072.65 432.7L1073.91 440.6L1075.16 449.4L1076.42 459.0L1077.68 469.3L1078.94 480.0L1080.20 491.1L1081.46 502.3"/>
</g>
<rect x="129.0" y="5.2" width="1127.7" height="654.8" fill="none" stroke="#000" stroke-width="2.6"/>
<rect x="134.5" y="12.5" width="341.2" height="42.2" fill="#fff" stroke="#222" stroke-width="1.2"/>
<g fill="none" stroke-width="5.2" stroke-linecap="round">
<line x1="139.6" y1="33.2" x2="175.4" y2="33.2" stroke="#474747"/>
<line x1="261.9" y1="33.2" x2="297.3" y2="33.2" stroke="#ea3336"/>
<line x1="382.2" y1="33.2" x2="417.9" y2="33.2" stroke="#1f6bdc"/>
</g>
<text transform="translate(184.0 43.7) scale(1.062 1)" font-size="31.3" font-weight="normal" text-anchor="start">ANN</text>
<text transform="translate(306.0 43.7) scale(1.062 1)" font-size="31.3" font-weight="normal" text-anchor="start">M5P</text>
<text transform="translate(426.3 43.7) scale(1.062 1)" font-size="31.3" font-weight="normal" text-anchor="start">RF</text>
<text transform="translate(128.4 702.7) scale(1.016 1)" font-size="29.3" font-weight="normal" text-anchor="middle">0</text>
<text transform="translate(215.2 702.7) scale(1.016 1)" font-size="29.3" font-weight="normal" text-anchor="middle">5</text>
<text transform="translate(301.9 702.7) scale(1.016 1)" font-size="29.3" font-weight="normal" text-anchor="middle">10</text>
<text transform="translate(388.6 702.7) scale(1.016 1)" font-size="29.3" font-weight="normal" text-anchor="middle">15</text>
<text transform="translate(475.4 702.7) scale(1.016 1)" font-size="29.3" font-weight="normal" text-anchor="middle">20</text>
<text transform="translate(562.1 702.7) scale(1.016 1)" font-size="29.3" font-weight="normal" text-anchor="middle">25</text>
<text transform="translate(648.9 702.7) scale(1.016 1)" font-size="29.3" font-weight="normal" text-anchor="middle">30</text>
<text transform="translate(735.6 702.7) scale(1.016 1)" font-size="29.3" font-weight="normal" text-anchor="middle">35</text>
<text transform="translate(822.4 702.7) scale(1.016 1)" font-size="29.3" font-weight="normal" text-anchor="middle">40</text>
<text transform="translate(909.2 702.7) scale(1.016 1)" font-size="29.3" font-weight="normal" text-anchor="middle">45</text>
<text transform="translate(995.9 702.7) scale(1.016 1)" font-size="29.3" font-weight="normal" text-anchor="middle">50</text>
<text transform="translate(1082.7 702.7) scale(1.016 1)" font-size="29.3" font-weight="normal" text-anchor="middle">55</text>
<text transform="translate(1169.4 702.7) scale(1.016 1)" font-size="29.3" font-weight="normal" text-anchor="middle">60</text>
<text transform="translate(1256.2 702.7) scale(1.016 1)" font-size="29.3" font-weight="normal" text-anchor="middle">65</text>
<text transform="translate(105.0 621.9) scale(0.992 1)" font-size="29.8" font-weight="normal" text-anchor="end">-0.03</text>
<text transform="translate(105.0 529.7) scale(0.992 1)" font-size="29.8" font-weight="normal" text-anchor="end">-0.02</text>
<text transform="translate(105.0 437.4) scale(0.992 1)" font-size="29.8" font-weight="normal" text-anchor="end">-0.01</text>
<text transform="translate(105.0 345.1) scale(0.992 1)" font-size="29.8" font-weight="normal" text-anchor="end">0.00</text>
<text transform="translate(105.0 252.8) scale(0.992 1)" font-size="29.8" font-weight="normal" text-anchor="end">0.01</text>
<text transform="translate(105.0 160.5) scale(0.992 1)" font-size="29.8" font-weight="normal" text-anchor="end">0.02</text>
<text transform="translate(105.0 68.3) scale(0.992 1)" font-size="29.8" font-weight="normal" text-anchor="end">0.03</text>
<text transform="translate(682.3 754.5) scale(1.062 1)" font-size="34.1" font-weight="bold" text-anchor="middle">Observations</text>
<text transform="translate(30.5 321) rotate(-90) scale(1 1.105)" font-size="33.9" font-weight="bold" text-anchor="middle">Errors</text>
<text transform="translate(719.5 644.2) scale(1.1 1)" font-size="27.2" font-weight="bold" text-anchor="start">Training</text>
<text transform="translate(870.3 647.4) scale(1.09 1)" font-size="30.4" font-weight="bold" text-anchor="start">Testing</text>
</svg>
</body>
</html>
